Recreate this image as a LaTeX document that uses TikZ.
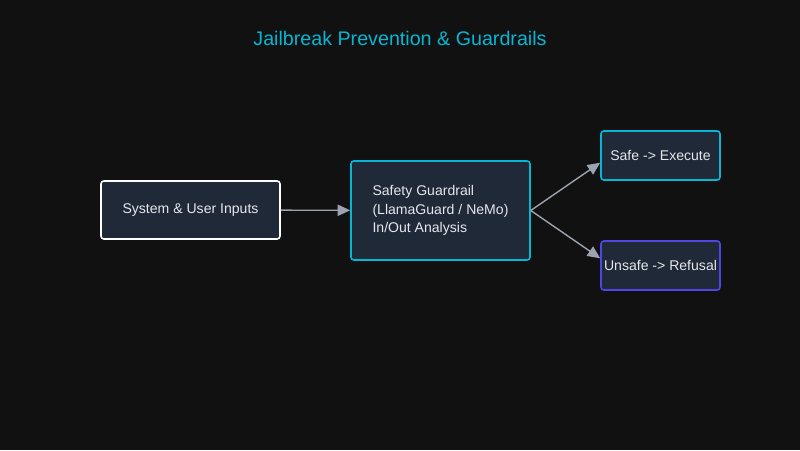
\documentclass[tikz,border=0pt]{standalone}
\usepackage{fontspec}
\setmainfont{Liberation Sans}
\usetikzlibrary{arrows.meta}

\definecolor{bgdark}{HTML}{111111}
\definecolor{boxfill}{HTML}{1F2937}
\definecolor{boxtext}{HTML}{E5E7EB}
\definecolor{cyanline}{HTML}{06B6D4}
\definecolor{indigoline}{HTML}{4F46E5}
\definecolor{arrowgray}{HTML}{9CA3AF}

\tikzset{
	flowbox/.style={rectangle, rounded corners=2pt, draw, line width=1.1pt, fill=boxfill, text=boxtext, inner xsep=1pt, font=\fontsize{10}{13}\selectfont},
	flowarrow/.style={-{Triangle[length=9pt,width=8pt]}, arrowgray, line width=1pt}
}

\begin{document}
\begin{tikzpicture}
		
		\fill[bgdark] (0,0) rectangle (20,11.25);
		\useasboundingbox (0,0) rectangle (20,11.25);
		
		\node[text=cyanline, font=\fontsize{14}{17}\selectfont]
		(title) at (10,10.3) {Jailbreak Prevention \& Guardrails};
		
		% Node
		
		\node[flowbox, draw=white, minimum width=4.475cm, minimum height=1.45cm]
		(inputs) at (4.7625,6.0) {System \& User Inputs};
		\node[flowbox, draw=cyanline, minimum width=4.475cm, minimum height=2.475cm, align=left]
		(guard) at (11.0125,5.9875) {Safety Guardrail\\(LlamaGuard / NeMo)\\In/Out Analysis};
		\node[flowbox, draw=cyanline, minimum width=2.975cm, minimum height=1.225cm]
		(safe) at (16.5125,7.3625) {Safe -> Execute};
		\node[flowbox, draw=indigoline, minimum width=2.975cm, minimum height=1.225cm]
		(unsafe) at (16.5125,4.6125) {Unsafe -> Refusal};
		
		% EDGE
		
		\draw[flowarrow] (inputs) -- (guard);
		\draw[flowarrow] (guard.east) -- ([yshift=-0.18cm]safe.west);
		\draw[flowarrow] (guard.east) -- ([yshift=0.18cm]unsafe.west);
		
	\end{tikzpicture}
\end{document}
